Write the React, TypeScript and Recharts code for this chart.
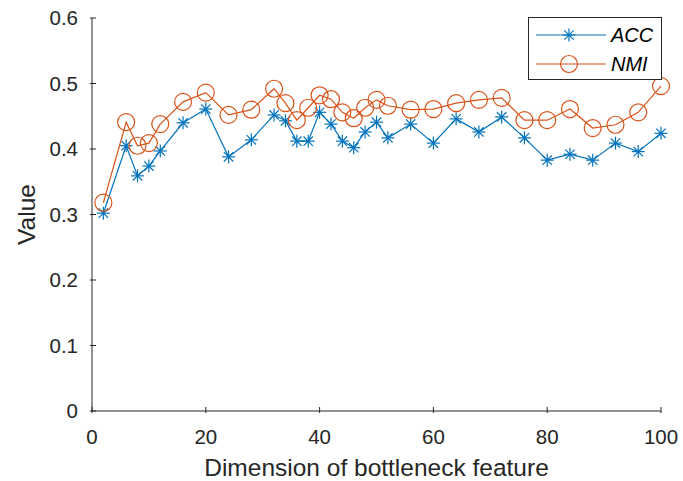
import React from "react";
import { LineChart, Line, XAxis, YAxis } from "recharts";

const dims = [2, 6, 8, 10, 12, 16, 20, 24, 28, 32, 34, 36, 38, 40, 42, 44, 46, 48, 50, 52, 56, 60, 64, 68, 72, 76, 80, 84, 88, 92, 96, 100];
const acc = [0.302, 0.405, 0.359, 0.374, 0.397, 0.44, 0.461, 0.388, 0.414, 0.452, 0.443, 0.412, 0.412, 0.456, 0.438, 0.412, 0.402, 0.426, 0.441, 0.417, 0.438, 0.409, 0.446, 0.426, 0.449, 0.417, 0.383, 0.392, 0.383, 0.409, 0.396, 0.424];
const nmi = [0.318, 0.441, 0.405, 0.409, 0.438, 0.472, 0.486, 0.452, 0.46, 0.492, 0.47, 0.444, 0.463, 0.482, 0.476, 0.456, 0.447, 0.463, 0.475, 0.466, 0.46, 0.461, 0.47, 0.475, 0.478, 0.444, 0.444, 0.461, 0.432, 0.437, 0.456, 0.496];
const xTicks = [0, 20, 40, 60, 80, 100];
const yTicks = [0, 0.1, 0.2, 0.3, 0.4, 0.5, 0.6];

const data = dims.map((d, i) => ({ dim: d, acc: acc[i], nmi: nmi[i] }));

const FONT = '"Liberation Sans", Arial, Helvetica, sans-serif';
const INK = "#262626";
const BLUE = "#0072BD";
const ORANGE = "#D95319";

const series = [
  { key: "acc", name: "ACC", color: BLUE, marker: "star" },
  { key: "nmi", name: "NMI", color: ORANGE, marker: "circle" },
];

function Star({ cx, cy, color, r = 6.5 }: any) {
  const d = r * 0.72;
  return (
    <g stroke={color} strokeWidth={1.2}>
      <line x1={cx - r} y1={cy} x2={cx + r} y2={cy} />
      <line x1={cx} y1={cy - r} x2={cx} y2={cy + r} />
      <line x1={cx - d} y1={cy - d} x2={cx + d} y2={cy + d} />
      <line x1={cx - d} y1={cy + d} x2={cx + d} y2={cy - d} />
    </g>
  );
}

function Ring({ cx, cy, color }: any) {
  return <circle cx={cx} cy={cy} r={8.5} fill="none" stroke={color} strokeWidth={1.2} />;
}

function BottomTick({ x, y, payload }: any) {
  return (
    <g>
      <line x1={x} y1={y} x2={x} y2={y - 6} stroke={INK} />
      <text x={x} y={y + 31} textAnchor="middle" fill={INK} fontSize={20.5} fontFamily={FONT}>
        {payload.value}
      </text>
    </g>
  );
}

function LeftTick({ x, y, payload }: any) {
  return (
    <g>
      <line x1={x} y1={y} x2={x + 6} y2={y} stroke={INK} />
      <text x={x - 12} y={y + 7} textAnchor="end" fill={INK} fontSize={20.5} fontFamily={FONT}>
        {payload.value}
      </text>
    </g>
  );
}

function TopTick({ x, y }: any) {
  return <line x1={x} y1={y} x2={x} y2={y + 6} stroke={INK} />;
}

function RightTick({ x, y }: any) {
  return <line x1={x} y1={y} x2={x - 6} y2={y} stroke={INK} />;
}

export default function App() {
  return (
    <div style={{ position: "absolute", left: 0, top: 0, width: 683, height: 481, background: "#fff" }}>
      <LineChart width={683} height={481} data={data} margin={{ top: 18, right: 22, bottom: 30, left: 32 }}>
        <XAxis
          dataKey="dim"
          type="number"
          domain={[0, 100]}
          ticks={xTicks}
          tickSize={0}
          tick={<BottomTick />}
          stroke={INK}
          height={40}
          label={{ value: "Dimension of bottleneck feature", position: "insideBottom", offset: -25, fill: INK, fontSize: 24.5, fontFamily: FONT }}
        />
        <XAxis xAxisId="top" orientation="top" type="number" domain={[0, 100]} ticks={xTicks} tickSize={0} tick={<TopTick />} stroke={INK} height={0} />
        <YAxis
          type="number"
          domain={[0, 0.6]}
          ticks={yTicks}
          tickSize={0}
          tick={<LeftTick />}
          stroke={INK}
          width={60}
          label={{ value: "Value", angle: -90, position: "insideLeft", offset: -6, fill: INK, fontSize: 24.5, fontFamily: FONT, style: { textAnchor: "middle" } }}
        />
        <YAxis yAxisId="right" orientation="right" type="number" domain={[0, 0.6]} ticks={yTicks} tickSize={0} tick={<RightTick />} stroke={INK} width={0} />
        <Line
          dataKey="acc"
          stroke={BLUE}
          strokeWidth={1.2}
          isAnimationActive={false}
          dot={(p: any) => <Star key={p.index} cx={p.cx} cy={p.cy} color={BLUE} />}
        />
        <Line
          dataKey="nmi"
          stroke={ORANGE}
          strokeWidth={1.2}
          isAnimationActive={false}
          dot={(p: any) => <Ring key={p.index} cx={p.cx} cy={p.cy} color={ORANGE} />}
        />
      </LineChart>
      <div
        style={{
          position: "absolute",
          left: 528,
          top: 17,
          width: 134,
          height: 63,
          border: `1px solid ${INK}`,
          background: "#fff",
          boxSizing: "border-box",
        }}
      >
        {series.map((s, i) => (
          <div key={s.key} style={{ position: "absolute", left: 0, top: 4 + i * 29, height: 26, display: "flex", alignItems: "center" }}>
            <svg width={82} height={26}>
              <line x1={7} y1={13} x2={77} y2={13} stroke={s.color} strokeWidth={1.2} />
              {s.marker === "star" ? <Star cx={40} cy={13} color={s.color} /> : <Ring cx={40} cy={13} color={s.color} />}
            </svg>
            <span style={{ fontFamily: FONT, fontStyle: "italic", fontSize: 20, color: "#000" }}>{s.name}</span>
          </div>
        ))}
      </div>
    </div>
  );
}
